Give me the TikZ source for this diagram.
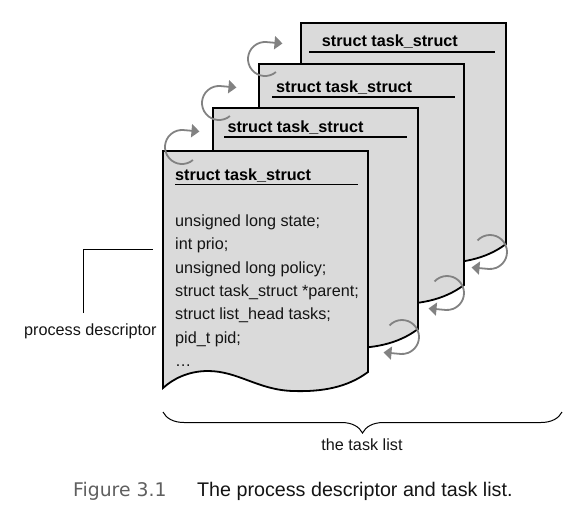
\documentclass[tikz,border=0pt]{standalone}
\usepackage{fontspec}
\setmainfont{Liberation Sans}
\newfontfamily\figfont{DejaVu Sans}
\usetikzlibrary{decorations.pathreplacing,arrows.meta,calc}
\definecolor{pagefill}{RGB}{218,218,218}
\definecolor{cyclegray}{RGB}{130,130,130}
\definecolor{figgray}{RGB}{95,95,95}
\definecolor{inkblack}{RGB}{20,20,20}
\newcommand\taskpage[3]{%
  \begin{scope}[shift={(#2,#3)}]
    \coordinate (#1) at (0,0);
    \filldraw[pageedge] (0,237) -- (0,0) -- (205,0) -- (205,221)
      .. controls (185,236) and (160,241) .. (130,240)
      .. controls (95,239) and (75,220) .. (45,220)
      .. controls (25,220) and (10,228) .. (0,237) -- cycle;
  \end{scope}}
\newcommand\toparrow[1]{%
  \draw[cyclearrow] ($(#1)+(50:17)$) arc[start angle=50, end angle=275, radius=17] -- ++(16,1.4);}
\newcommand\botarrow[1]{%
  \draw[cyclearrow] ($(#1)+(223:17)$) arc[start angle=223, end angle=455, radius=17] -- ++(-17,-1.5);}
\begin{document}
\begin{tikzpicture}[x=1pt,y=-1pt,
  pageedge/.style={draw=black, fill=pagefill, line width=1.8pt, line join=miter},
  cyclearrow/.style={draw=cyclegray, line width=1.8pt, -{Triangle[length=8pt,width=13pt]}},
  titletext/.style={inner sep=0pt, anchor=base west, font=\fontsize{16.2}{19}\selectfont\bfseries, text=black},
  bodytext/.style={inner sep=0pt, anchor=base west, font=\fontsize{16.2}{19}\selectfont, text=inkblack},
  uline/.style={draw=black, line width=1.8pt},
  leader/.style={draw=black, line width=1pt},
  bracestyle/.style={draw=black, line width=1pt, decorate, decoration={brace, mirror, amplitude=21pt}}]
\useasboundingbox (0,0) rectangle (586,512);

% pages, back to front
\taskpage{p4}{301}{23}
\taskpage{p3}{259}{64}
\taskpage{p2}{213}{108}
\taskpage{p1}{163}{151}

% titles
\node[titletext] (t4) at (321.7,46.7) {struct task\_struct};
\draw[uline] (309,51.7) -- (495,51.7);
\node[titletext] (t3) at (276,92.7) {struct task\_struct};
\draw[uline] (272,97.3) -- (455,97.3);
\node[titletext] (t2) at (227.3,132.7) {struct task\_struct};
\draw[uline] (224,137.3) -- (407,137.3);
\node[titletext] (t1) at (175,180) {struct task\_struct};
\draw[uline] (175,184.5) -- (358,184.5);

% fields
\node[bodytext] (f1) at (175,226.5) {unsigned long state;};
\node[bodytext] (f2) at (175,249.8) {int prio;};
\node[bodytext] (f3) at (175,273.1) {unsigned long policy;};
\node[bodytext] (f4) at (175,296.4) {struct task\_struct *parent;};
\node[bodytext] (f5) at (175,319.7) {struct list\_head tasks;};
\node[bodytext] (f6) at (175,343.0) {pid\_t pid;};
\node[bodytext] (f7) at (175,366.3) {…};

% cycle arrows
\coordinate (a1) at (182,147);
\coordinate (a2) at (219,103);
\coordinate (a3) at (265,59);
\toparrow{a1}
\toparrow{a2}
\toparrow{a3}
\coordinate (b1) at (402,337);
\coordinate (b2) at (447,293);
\coordinate (b3) at (490,252);
\botarrow{b1}
\botarrow{b2}
\botarrow{b3}

% process descriptor label
\node[bodytext] (pd) at (24,335) {process descriptor};
\coordinate (pdl) at (83,313);
\coordinate (pdr) at (153,249);
\draw[leader] (pdl) |- (pdr);

% brace
\coordinate (bl) at (163,412);
\coordinate (br) at (562,412);
\draw[bracestyle] (bl) -- (br);
\node[bodytext, anchor=base] (tl) at (362,450) {the task list};

% caption
\node[inner sep=0pt, anchor=base west, font=\figfont\fontsize{18.8}{22}\selectfont, text=figgray] (fig) at (73,496) {Figure 3.1};
\node[inner sep=0pt, anchor=base west, font=\fontsize{19.7}{23}\selectfont, text=inkblack] (cap) at (197,496) {The process descriptor and task list.};
\end{tikzpicture}
\end{document}
